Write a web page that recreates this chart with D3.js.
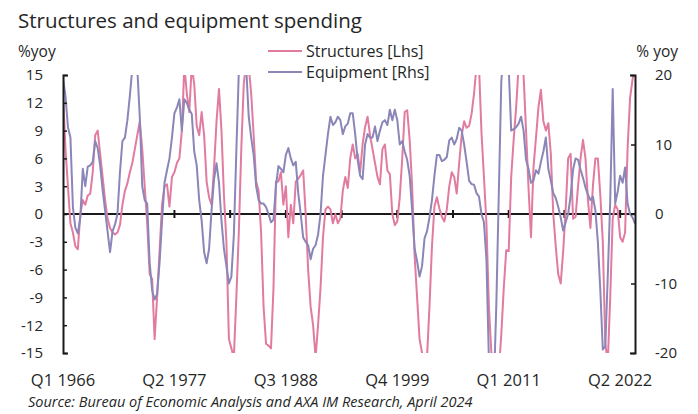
<!DOCTYPE html>
<html lang="en">
<head>
<meta charset="utf-8">
<title>Structures and equipment spending</title>
<script src="https://cdn.jsdelivr.net/npm/d3@7"></script>
<style>
  body { margin: 0; background: #fff; }
  text { font-family: "Open Sans", "Noto Sans", sans-serif; fill: #262626; }
</style>
</head>
<body>
<script>
// quarters Q1 1966 .. Q4 2023
var quarters = [];
for (var yr = 1966; yr <= 2023; yr++) {
  for (var q = 1; q <= 4; q++) quarters.push("Q" + q + " " + yr);
}

var xLabels = ["Q1 1966", "Q2 1977", "Q3 1988", "Q4 1999", "Q1 2011", "Q2 2022"];
var leftTicks = [-15, -12, -9, -6, -3, 0, 3, 6, 9, 12, 15];
var rightTicks = [-20, -10, 0, 10, 20];

// structures, % yoy (left axis)
var structures = [
  13, 7, 3, -1, -2, -3.5, -3.8, 0, 1.5, 1, 2, 2.2, 4.5, 8.5, 9, 6.5, 4, 1.5, -0.5, -1.5,
  -2, -2.2, -2, -1.2, 1, 2.5, 3.3, 4.5, 5.5, 7, 8.5, 10, 7, 3, -1, -6.5, -7, -13.5, -9, -4,
  1, 3, 3.2, 0.8, 4, 4.5, 5.5, 6, 9, 16, 13, 11, 16, 14, 9.5, 8.5, 11, 8.5, 3.5, 1.8,
  1, 5, 10, 13.5, 9, 2, -3, -13.5, -14.5, -15.5, -9, -2, 7, 14, 16.5, 16, 13, 8.5, 3.5, 2.5,
  -2, -10, -14, -14.2, -14.5, -8, 3.5, 3.5, 4.5, 1, 3, -2.5, 1, -1, 3.5, 3.8, 4.2, 4.7, 0, -6,
  -10, -12, -15.5, -12, -8, -2.5, 0.5, 0.8, 0.5, -1, 0, -1, -0.5, 2.5, 4, 2.8, 6, 7.5, 6, 6.5,
  4.5, 7.5, 9.4, 10.5, 8.5, 7, 5.5, 4, 3.2, 7, 7.5, 4.7, 4.3, 0, -1.2, -0.8, 1.8, 6, 11, 11.2,
  8, 3, -4.5, -9, -13.5, -15, -15.5, -15.5, -10, -3.5, 0.8, 1.8, 0.6, -0.3, -0.8, 0.5, 3, 4.5, 4, 2.2,
  5.5, 8.5, 10, 9.3, 9.5, 10.8, 13, 16, 16, 8.8, 4, -1, -10, -15, -17, -18, -17, -13, -8, -3.9,
  -4, 4, 8, 11.5, 16, 17, 15, 9, 2.8, -2.5, 5, 8.2, 11.5, 13.4, 10, 9, 9.8, 6.5, 0, -3.5,
  -6.5, -7.5, -4, 0.5, 6, 6.5, -0.5, -0.3, 3, 6, 8, 6, 1.5, -1.5, 3, 6, 6, 2, -3, -14,
  -16, -9, -0.5, 1, 0.5, -2.5, -3, -2, 7, 12.5, 14.5, 16
];

// equipment, % yoy (right axis)
var equipment = [
  19.5, 17, 12.5, 11, 1, -2, -2.8, -0.5, 6.5, 4, 6.8, 7, 7.5, 10.5, 9.5, 7, 3.5, 0.5, -2.5, -5.5,
  -2.5, -1.5, 0, 6, 10.5, 11, 13.5, 17, 21, 23, 21, 14, 4, 2, 1.5, -7, -11, -12.3, -11.5, -7,
  -1, 4.5, 6.3, 8, 11, 14.5, 15.3, 16.5, 12, 16.5, 16, 15, 14.4, 9, 7, 2, -1, -5.5, -7.1, -5,
  0.6, 5, 7.3, 4.5, -1, -5, -7.5, -10, -9, -3, 9, 20.5, 24, 24, 21, 14, 11, 8.5, 4, 2,
  1.5, 1.5, 1, 0, -1.2, -0.8, 4, 6.9, 6.5, 6, 8.5, 9.5, 8, 7, 7.5, 3, 0, -3.4, -4, -4.5,
  -6.5, -5, -4.5, -3, 0, 5.5, 8.5, 11.5, 14, 12.8, 13.2, 14, 13.5, 11.5, 12.6, 13, 14.5, 14.5, 11.5, 7.8,
  5.5, 5, 10, 11.5, 11, 11, 12.6, 10.5, 12, 13.2, 13.5, 12.8, 15, 13.5, 15, 13.5, 10, 10.5, 9, 7.8,
  5.5, 0.5, -5, -6.8, -9, -7.5, -3.5, -2.5, -0.5, 2, 5.5, 8.5, 8.5, 7.6, 7.8, 8.2, 10.6, 11, 10, 10.8,
  12.4, 12, 10, 7.5, 4.8, 4.3, 4.2, 3, 2.5, 0, -1.2, -6.5, -21, -25, -25, -13, 3, 19, 24, 24,
  21, 12, 12.2, 12.5, 13, 14, 12, 7.8, 6.5, 4.5, 4.8, 6.3, 5.8, 7.5, 9, 11, 6.5, 4.8, 3, 2.3,
  1, -0.5, -2.4, -1.2, 0, 2.6, 6.4, 8, 7.8, 6.4, 5.2, 3.8, 2.8, 2, 2.5, 0.5, -4, -11, -19.5, -19,
  -9, 2, 18, 1.5, 3.2, 5.5, 4.5, 6.7, 1.5, 0, -0.5, -1.4
];

var width = 698, height = 414;
var pLeft = 63, pRight = 635, pTop = 75, pBottom = 353;

var svg = d3.select("body").append("svg")
  .attr("width", width)
  .attr("height", height);

var x = d3.scalePoint().domain(quarters).range([pLeft, pRight]);
var yL = d3.scaleLinear().domain([-15, 15]).range([pBottom, pTop]);
var yR = d3.scaleLinear().domain([-20, 20]).range([pBottom, pTop]);

svg.append("clipPath").attr("id", "plot")
  .append("rect")
  .attr("x", pLeft).attr("y", pTop)
  .attr("width", pRight - pLeft).attr("height", pBottom - pTop);

// zero line with marks
svg.append("line")
  .attr("x1", pLeft).attr("x2", pRight)
  .attr("y1", yL(0)).attr("y2", yL(0))
  .attr("stroke", "#1a1a1a").attr("stroke-width", 2);

var step = x.step();
var marks = d3.range(2, 11).map(k => pLeft + k * 22.5 * step);
svg.append("g").selectAll("line")
  .data(marks)
  .join("line")
  .attr("x1", d => d).attr("x2", d => d)
  .attr("y1", yL(0) - 4).attr("y2", yL(0) + 4)
  .attr("stroke", "#1a1a1a").attr("stroke-width", 2);

// series
var lineL = d3.line().x((d, i) => x(quarters[i])).y(d => yL(d));
var lineR = d3.line().x((d, i) => x(quarters[i])).y(d => yR(d));

var plot = svg.append("g").attr("clip-path", "url(#plot)");
plot.append("path")
  .datum(structures)
  .attr("d", lineL)
  .attr("fill", "none")
  .attr("stroke", "#e27ba0")
  .attr("stroke-width", 2)
  .attr("stroke-linejoin", "round");

plot.append("path")
  .datum(equipment)
  .attr("d", lineR)
  .attr("fill", "none")
  .attr("stroke", "#8a86b8")
  .attr("stroke-width", 2)
  .attr("stroke-linejoin", "round");

// axes
var gL = svg.append("g")
  .attr("transform", "translate(" + pLeft + ",0)")
  .call(d3.axisLeft(yL).tickValues(leftTicks).tickFormat(d => d)
    .tickSizeInner(-4).tickSizeOuter(-5).tickPadding(20));
var gR = svg.append("g")
  .attr("transform", "translate(" + pRight + ",0)")
  .call(d3.axisRight(yR).tickValues(rightTicks).tickFormat(d => d)
    .tickSizeInner(-4).tickSizeOuter(-5).tickPadding(20));

[gL, gR].forEach(function(g) {
  g.select(".domain").attr("stroke", "#1a1a1a").attr("stroke-width", 2);
  g.selectAll(".tick line").attr("stroke", "#1a1a1a").attr("stroke-width", 1.5);
  g.selectAll(".tick text")
    .attr("font-family", "Open Sans")
    .attr("font-size", 15)
    .attr("fill", "#262626");
});

// category labels
svg.append("g").selectAll("text")
  .data(xLabels)
  .join("text")
  .attr("x", d => x(d))
  .attr("y", 386)
  .attr("text-anchor", "middle")
  .attr("font-size", 16.5)
  .text(d => d);

// titles
svg.append("text")
  .attr("x", 18).attr("y", 28)
  .attr("font-size", 20.5)
  .text("Structures and equipment spending");

svg.append("text").attr("x", 18).attr("y", 57)
  .attr("font-size", 15.5).text("%yoy");
svg.append("text").attr("x", 678).attr("y", 57)
  .attr("text-anchor", "end")
  .attr("font-size", 15.5).text("% yoy");

// legend
var legend = [
  {name: "Structures [Lhs]", color: "#e27ba0", y: 51},
  {name: "Equipment [Rhs]", color: "#8a86b8", y: 72}
];
var lg = svg.append("g").selectAll("g").data(legend).join("g");
lg.append("line")
  .attr("x1", 268).attr("x2", 302)
  .attr("y1", d => d.y).attr("y2", d => d.y)
  .attr("stroke", d => d.color).attr("stroke-width", 2);
lg.append("text")
  .attr("x", 306).attr("y", d => d.y + 5.5)
  .attr("font-size", 16)
  .text(d => d.name);

svg.append("text")
  .attr("x", 28).attr("y", 407)
  .attr("font-size", 14.5)
  .attr("font-style", "italic")
  .text("Source: Bureau of Economic Analysis and AXA IM Research, April 2024");
</script>
</body>
</html>
